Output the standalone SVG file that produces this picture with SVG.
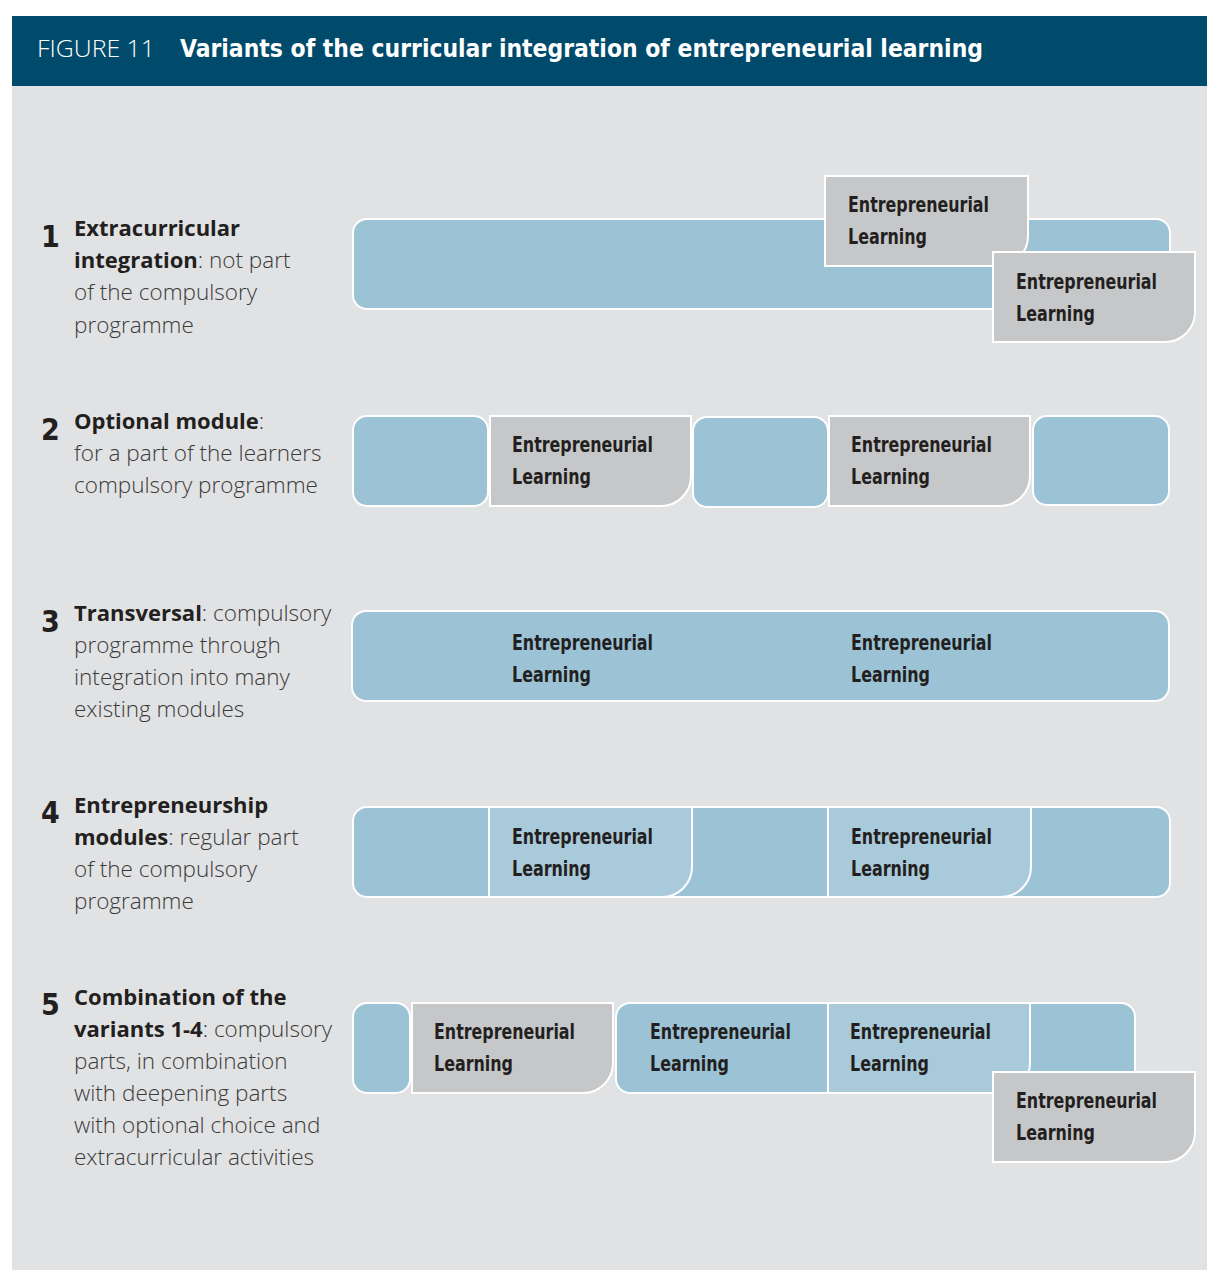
<svg xmlns="http://www.w3.org/2000/svg" width="1207" height="1270" viewBox="0 0 1207 1270">
<style>
.bg{fill:#e1e2e4}
.hdr{fill:#004a6b}
.blue{fill:#9cc2d6;stroke:#ffffff;stroke-width:2}
.light{fill:#a9cadb;stroke:#ffffff;stroke-width:2}
.gray{fill:#c6c7c9;stroke:#ffffff;stroke-width:2}
.el{font-family:"DejaVu Sans Condensed","DejaVu Sans",sans-serif;font-weight:bold;font-size:22px;fill:#231f20}
.num{font-family:"DejaVu Sans Condensed","DejaVu Sans",sans-serif;font-weight:bold;font-size:30px;fill:#231f20}
.desc{font-family:"Open Sans","Noto Sans",sans-serif;font-size:22.5px;font-weight:300;fill:#3a3a3a}
.desc tspan.b{font-weight:bold;font-size:22px;fill:#231f20}
.fig{font-family:"Open Sans","Noto Sans",sans-serif;font-size:23px;font-weight:300;fill:#ffffff}
.title{font-family:"DejaVu Sans Condensed","DejaVu Sans",sans-serif;font-weight:bold;font-size:24px;fill:#ffffff}
</style>
<rect x="0" y="0" width="1207" height="1270" fill="#ffffff"/>
<rect class="bg" x="12" y="86" width="1195" height="1184"/>
<g id="header">
<rect class="hdr" x="12" y="16" width="1195" height="70"/>
<text class="fig" x="37" y="57" textLength="118" lengthAdjust="spacingAndGlyphs">FIGURE 11</text>
<text class="title" x="180" y="57" textLength="803" lengthAdjust="spacingAndGlyphs">Variants of the curricular integration of entrepreneurial learning</text>
</g>

<!-- Row 1 -->
<g id="label1">
<text class="num" x="41" y="247">1</text>
<text class="desc" x="74" y="236"><tspan class="b">Extracurricular</tspan></text>
<text class="desc" x="74" y="268"><tspan class="b">integration</tspan>: not part</text>
<text class="desc" x="74" y="300">of the compulsory</text>
<text class="desc" x="74" y="333">programme</text>
</g>
<g id="row1">
<rect class="blue" x="353" y="219" width="817" height="90" rx="14"/>
<g id="row1-el1">
<path class="gray" d="M825 176 H1028 V236 A30 30 0 0 1 998 266 H825 Z"/>
<text class="el" x="848" y="212" textLength="141" lengthAdjust="spacingAndGlyphs">Entrepreneurial</text>
<text class="el" x="848" y="244" textLength="79" lengthAdjust="spacingAndGlyphs">Learning</text>
</g>
<g id="row1-el2">
<path class="gray" d="M993 252 H1195 V312 A30 30 0 0 1 1165 342 H993 Z"/>
<text class="el" x="1016" y="289" textLength="141" lengthAdjust="spacingAndGlyphs">Entrepreneurial</text>
<text class="el" x="1016" y="321" textLength="79" lengthAdjust="spacingAndGlyphs">Learning</text>
</g>
</g>

<!-- Row 2 -->
<g id="label2">
<text class="num" x="41" y="440">2</text>
<text class="desc" x="74" y="429"><tspan class="b">Optional module</tspan>:</text>
<text class="desc" x="74" y="461">for a part of the learners</text>
<text class="desc" x="74" y="493">compulsory programme</text>
</g>
<g id="row2">
<rect class="blue" x="353" y="416" width="135" height="90" rx="14"/>
<g id="row2-el1">
<path class="gray" d="M490 416 H691 V476 A30 30 0 0 1 661 506 H490 Z"/>
<text class="el" x="512" y="452" textLength="141" lengthAdjust="spacingAndGlyphs">Entrepreneurial</text>
<text class="el" x="512" y="484" textLength="79" lengthAdjust="spacingAndGlyphs">Learning</text>
</g>
<rect class="blue" x="693" y="417" width="135" height="90" rx="14"/>
<g id="row2-el2">
<path class="gray" d="M829 416 H1030 V476 A30 30 0 0 1 1000 506 H829 Z"/>
<text class="el" x="851" y="452" textLength="141" lengthAdjust="spacingAndGlyphs">Entrepreneurial</text>
<text class="el" x="851" y="484" textLength="79" lengthAdjust="spacingAndGlyphs">Learning</text>
</g>
<rect class="blue" x="1033" y="416" width="136" height="89" rx="14"/>
</g>

<!-- Row 3 -->
<g id="label3">
<text class="num" x="41" y="632">3</text>
<text class="desc" x="74" y="621"><tspan class="b">Transversal</tspan>: compulsory</text>
<text class="desc" x="74" y="653">programme through</text>
<text class="desc" x="74" y="685">integration into many</text>
<text class="desc" x="74" y="717">existing modules</text>
</g>
<g id="row3">
<rect class="blue" x="352" y="611" width="817" height="90" rx="14"/>
<text class="el" x="512" y="650" textLength="141" lengthAdjust="spacingAndGlyphs">Entrepreneurial</text>
<text class="el" x="512" y="682" textLength="79" lengthAdjust="spacingAndGlyphs">Learning</text>
<text class="el" x="851" y="650" textLength="141" lengthAdjust="spacingAndGlyphs">Entrepreneurial</text>
<text class="el" x="851" y="682" textLength="79" lengthAdjust="spacingAndGlyphs">Learning</text>
</g>

<!-- Row 4 -->
<g id="label4">
<text class="num" x="41" y="823">4</text>
<text class="desc" x="74" y="813"><tspan class="b">Entrepreneurship</tspan></text>
<text class="desc" x="74" y="845"><tspan class="b">modules</tspan>: regular part</text>
<text class="desc" x="74" y="877">of the compulsory</text>
<text class="desc" x="74" y="909">programme</text>
</g>
<g id="row4">
<rect class="blue" x="353" y="807" width="817" height="90" rx="14"/>
<g id="row4-el1">
<path class="light" d="M489 807 H692 V867 A30 30 0 0 1 662 897 H489 Z"/>
<text class="el" x="512" y="844" textLength="141" lengthAdjust="spacingAndGlyphs">Entrepreneurial</text>
<text class="el" x="512" y="876" textLength="79" lengthAdjust="spacingAndGlyphs">Learning</text>
</g>
<g id="row4-el2">
<path class="light" d="M828 807 H1031 V867 A30 30 0 0 1 1001 897 H828 Z"/>
<text class="el" x="851" y="844" textLength="141" lengthAdjust="spacingAndGlyphs">Entrepreneurial</text>
<text class="el" x="851" y="876" textLength="79" lengthAdjust="spacingAndGlyphs">Learning</text>
</g>
</g>

<!-- Row 5 -->
<g id="label5">
<text class="num" x="41" y="1015">5</text>
<text class="desc" x="74" y="1005"><tspan class="b">Combination of the</tspan></text>
<text class="desc" x="74" y="1037"><tspan class="b">variants 1-4</tspan>: compulsory</text>
<text class="desc" x="74" y="1069">parts, in combination</text>
<text class="desc" x="74" y="1101">with deepening parts</text>
<text class="desc" x="74" y="1133">with optional choice and</text>
<text class="desc" x="74" y="1165">extracurricular activities</text>
</g>
<g id="row5">
<rect class="blue" x="353" y="1003" width="57" height="90" rx="14"/>
<g id="row5-el1">
<path class="gray" d="M412 1003 H613 V1063 A30 30 0 0 1 583 1093 H412 Z"/>
<text class="el" x="434" y="1039" textLength="141" lengthAdjust="spacingAndGlyphs">Entrepreneurial</text>
<text class="el" x="434" y="1071" textLength="79" lengthAdjust="spacingAndGlyphs">Learning</text>
</g>
<rect class="blue" x="616" y="1003" width="519" height="90" rx="14"/>
<g id="row5-el2">
<text class="el" x="650" y="1039" textLength="141" lengthAdjust="spacingAndGlyphs">Entrepreneurial</text>
<text class="el" x="650" y="1071" textLength="79" lengthAdjust="spacingAndGlyphs">Learning</text>
</g>
<g id="row5-el3">
<path class="light" d="M828 1003 H1030 V1063 A30 30 0 0 1 1000 1093 H828 Z"/>
<text class="el" x="850" y="1039" textLength="141" lengthAdjust="spacingAndGlyphs">Entrepreneurial</text>
<text class="el" x="850" y="1071" textLength="79" lengthAdjust="spacingAndGlyphs">Learning</text>
</g>
<g id="row5-el4">
<path class="gray" d="M993 1072 H1195 V1132 A30 30 0 0 1 1165 1162 H993 Z"/>
<text class="el" x="1016" y="1108" textLength="141" lengthAdjust="spacingAndGlyphs">Entrepreneurial</text>
<text class="el" x="1016" y="1140" textLength="79" lengthAdjust="spacingAndGlyphs">Learning</text>
</g>
</g>
</svg>
